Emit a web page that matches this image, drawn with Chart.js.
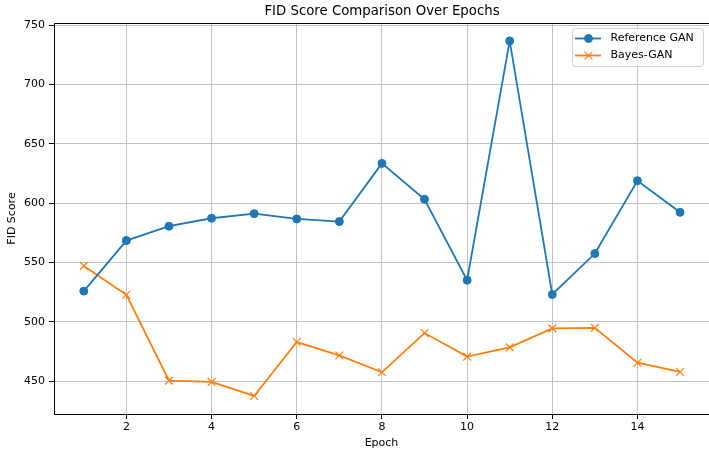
<!DOCTYPE html>
<html>
<head>
<meta charset="utf-8">
<script src="https://cdn.jsdelivr.net/npm/chart.js@4"></script>
<style>
    html, body { margin: 0; padding: 0; background: #fff; overflow: hidden; }
    canvas { display: block; }
</style>
</head>
<body>
<canvas id="fidChart" width="709" height="449"></canvas>
<script>
// values
var epochs = [1, 2, 3, 4, 5, 6, 7, 8, 9, 10, 11, 12, 13, 14, 15];
var referenceGan = [526.0, 568.5, 580.6, 587.3, 591.2, 586.7, 584.5, 633.5, 603.3, 535.2, 736.6, 523.1, 557.6, 618.9, 592.3];
var bayesGan = [547.2, 522.9, 450.6, 449.5, 437.7, 483.1, 471.8, 457.6, 490.7, 470.8, 478.6, 494.6, 495.0, 465.7, 457.9];
var xTicks = [2, 4, 6, 8, 10, 12, 14];
var yTicks = [450, 500, 550, 600, 650, 700, 750];

var FONT = "'DejaVu Sans', sans-serif";

function toPoints(values) {
    var pts = [];
    for (let i = 0; i < epochs.length; i++) {
        pts.push({x: epochs[i], y: values[i]});
    }
    return pts;
}

// title over the plot area, top spine and the legend box in the upper right
var extrasPlugin = {
    id: 'extras',
    afterDraw: function (chart) {
        var ctx = chart.ctx;
        var area = chart.chartArea;

        ctx.save();
        // top spine
        ctx.strokeStyle = '#000';
        ctx.lineWidth = 1;
        ctx.beginPath();
        ctx.moveTo(area.left, area.top + 0.5);
        ctx.lineTo(area.right, area.top + 0.5);
        ctx.stroke();

        // title
        ctx.fillStyle = '#000';
        ctx.font = '13.3px ' + FONT;
        ctx.textAlign = 'center';
        ctx.textBaseline = 'middle';
        ctx.fillText('FID Score Comparison Over Epochs', (area.left + 710) / 2, 12);

        // legend
        var bx = 572, by = 28, bw = 131, bh = 38;
        ctx.fillStyle = 'rgba(255,255,255,0.8)';
        ctx.strokeStyle = '#d0d0d0';
        ctx.beginPath();
        ctx.roundRect(bx + 0.5, by + 0.5, bw, bh, 3);
        ctx.fill();
        ctx.stroke();

        chart.data.datasets.forEach(function (ds, i) {
            var y = 38.5 + i * 17;
            ctx.strokeStyle = ds.borderColor;
            ctx.fillStyle = ds.borderColor;
            ctx.lineWidth = ds.borderWidth;
            ctx.beginPath();
            ctx.moveTo(575, y);
            ctx.lineTo(601, y);
            ctx.stroke();
            ctx.lineWidth = ds.pointBorderWidth;
            Chart.helpers.drawPoint(ctx, {
                pointStyle: ds.pointStyle,
                radius: ds.pointRadius,
                borderWidth: ds.pointBorderWidth,
                rotation: 0
            }, 588.5, y);
            ctx.fillStyle = '#000';
            ctx.font = '11px ' + FONT;
            ctx.textAlign = 'left';
            ctx.textBaseline = 'middle';
            ctx.fillText(ds.label, 610.5, y);
        });
        ctx.restore();
    }
};

var ctx = document.getElementById('fidChart').getContext('2d');
new Chart(ctx, {
    type: 'line',
    data: {
        datasets: [{
            label: 'Reference GAN',
            data: toPoints(referenceGan),
            borderColor: '#1f77b4',
            backgroundColor: '#1f77b4',
            borderWidth: 1.8,
            pointStyle: 'circle',
            pointRadius: 4,
            pointBorderWidth: 1,
            pointBackgroundColor: '#1f77b4',
            pointBorderColor: '#1f77b4',
            tension: 0
        }, {
            label: 'Bayes-GAN',
            data: toPoints(bayesGan),
            borderColor: '#ff7f0e',
            backgroundColor: '#ff7f0e',
            borderWidth: 1.8,
            pointStyle: 'crossRot',
            pointRadius: 5.5,
            pointBorderWidth: 1.2,
            pointBorderColor: '#ff7f0e',
            tension: 0
        }]
    },
    options: {
        responsive: false,
        animation: false,
        devicePixelRatio: 1,
        layout: {
            autoPadding: false,
            padding: {top: 23, left: 0, right: 0, bottom: 0}
        },
        plugins: {
            legend: {display: false},
            title: {display: false},
            tooltip: {enabled: false}
        },
        scales: {
            x: {
                type: 'linear',
                min: 0.3,
                max: 15.68,
                afterBuildTicks: function (scale) {
                    scale.ticks = xTicks.map(function (v) { return {value: v}; });
                },
                afterFit: function (scale) {
                    scale.height = 35;
                    scale.paddingLeft = 0;
                    scale.paddingRight = 0;
                },
                grid: {
                    color: '#c4c4c4',
                    lineWidth: 1,
                    tickLength: 5,
                    tickColor: '#000'
                },
                border: {display: true, color: '#000', width: 1},
                ticks: {
                    color: '#000',
                    padding: 2,
                    maxRotation: 0,
                    font: {family: FONT, size: 11}
                },
                title: {
                    display: true,
                    text: 'Epoch',
                    color: '#000',
                    padding: 0,
                    font: {family: FONT, size: 11, lineHeight: 1.09}
                }
            },
            y: {
                type: 'linear',
                min: 422.5,
                max: 751.7,
                afterBuildTicks: function (scale) {
                    scale.ticks = yTicks.map(function (v) { return {value: v}; });
                },
                afterFit: function (scale) {
                    scale.width = 54;
                    scale.paddingTop = 0;
                    scale.paddingBottom = 0;
                },
                grid: {
                    color: '#c4c4c4',
                    lineWidth: 1,
                    tickLength: 5,
                    tickColor: '#000'
                },
                border: {display: true, color: '#000', width: 1},
                ticks: {
                    color: '#000',
                    padding: 4,
                    font: {family: FONT, size: 11}
                },
                title: {
                    display: true,
                    text: 'FID Score',
                    color: '#000',
                    padding: 0,
                    font: {family: FONT, size: 11, lineHeight: 2.2}
                }
            }
        }
    },
    plugins: [extrasPlugin]
});
</script>
</body>
</html>
